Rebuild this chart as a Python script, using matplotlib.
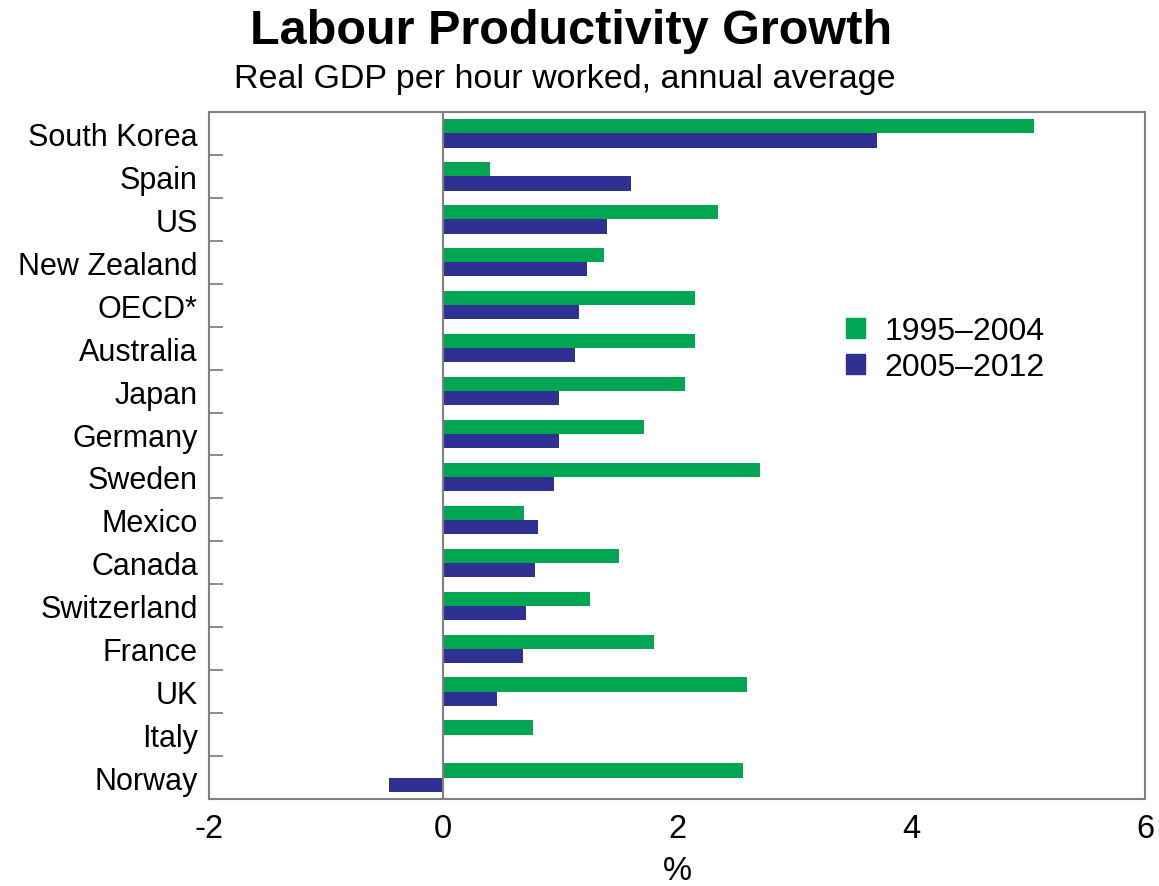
import matplotlib
matplotlib.use('Agg')
import matplotlib.pyplot as plt
import numpy as np
from matplotlib.patches import Patch

countries = ['South Korea', 'Spain', 'US', 'New Zealand', 'OECD*', 'Australia',
             'Japan', 'Germany', 'Sweden', 'Mexico', 'Canada', 'Switzerland',
             'France', 'UK', 'Italy', 'Norway']
g1995_2004 = [5.05, 0.40, 2.35, 1.38, 2.15, 2.15, 2.07, 1.72, 2.71, 0.69,
              1.50, 1.26, 1.80, 2.60, 0.77, 2.56]
g2005_2012 = [3.71, 1.61, 1.40, 1.23, 1.16, 1.13, 0.99, 0.99, 0.95, 0.81,
              0.79, 0.71, 0.68, 0.46, 0.00, -0.46]

green = '#00a651'
blue = '#2e3192'
grey = '#808080'

plt.rcParams['font.family'] = ['Liberation Sans', 'DejaVu Sans']
plt.rcParams['axes.unicode_minus'] = False

fig = plt.figure(figsize=(11.59, 8.87), dpi=100)
ax = fig.add_axes([0.1803, 0.0981, 0.8077, 0.7745])

y = np.arange(len(countries))
h = 0.33
ax.barh(y - h / 2, g1995_2004, height=h, color=green)
ax.barh(y + h / 2, g2005_2012, height=h, color=blue)
ax.axvline(0, color=grey, lw=1.5)

ax.set_xlim(-2, 6)
ax.set_ylim(len(countries) - 0.5, -0.5)
ax.set_xticks([-2, 0, 2, 4, 6])
ax.tick_params(axis='x', length=0, labelsize=23.5, pad=10)
ax.set_yticks(y)
ax.set_yticklabels(countries)
ax.tick_params(axis='y', length=0, labelsize=22, pad=8)
ax.set_yticks(np.arange(0.5, len(countries) - 0.5, 1), minor=True)
ax.tick_params(axis='y', which='minor', direction='in', length=10, width=1.3, color=grey)
for s in ax.spines.values():
    s.set_color(grey)
    s.set_linewidth(1.5)
ax.set_xlabel('%', fontsize=23.5, labelpad=8)

fig.text(0.493, 0.964, 'Labour Productivity Growth', ha='center', va='center',
         fontsize=35, fontweight='bold')
fig.text(0.4875, 0.91, 'Real GDP per hour worked, annual average', ha='center',
         va='center', fontsize=24.5)

handles = [Patch(color=green, label='1995\u20132004'),
           Patch(color=blue, label='2005\u20132012')]
fig.legend(handles=handles, loc='center left', bbox_to_anchor=(0.705, 0.605),
           frameon=False, fontsize=23, handlelength=0.6, handleheight=0.6,
           handletextpad=0.6, labelspacing=0.18)

fig.savefig('out.png', dpi=100)
